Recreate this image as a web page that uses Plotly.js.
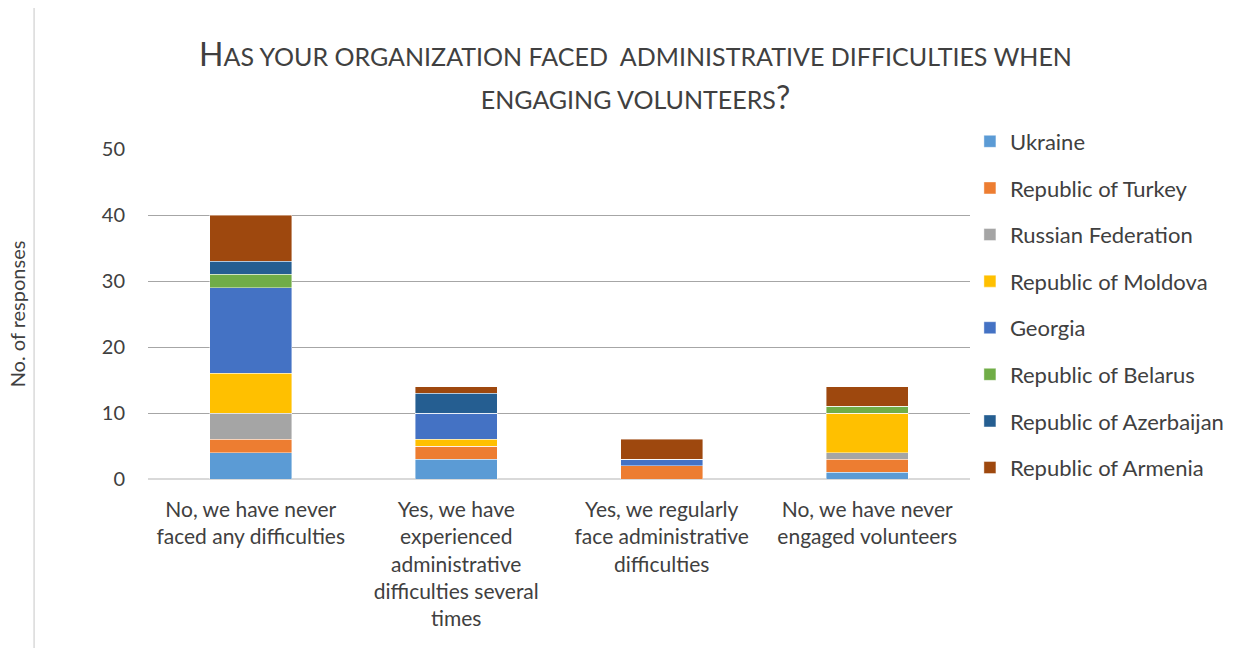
<!DOCTYPE html>
<html>
<head>
<meta charset="utf-8">
<script src="https://cdn.plot.ly/plotly-3.0.1.min.js"></script>
<style>html,body{margin:0;padding:0;background:#fff;}#chart{width:1234px;height:648px;}</style>
</head>
<body>
<div id="chart"></div>
<script>
const categories = [
  "No, we have never<br>faced any difficulties",
  "Yes, we have<br>experienced<br>administrative<br>difficulties several<br>times",
  "Yes, we regularly<br>face administrative<br>difficulties",
  "No, we have never<br>engaged volunteers"
];
const seriesNames = ["Ukraine","Republic of Turkey","Russian Federation","Republic of Moldova","Georgia","Republic of Belarus","Republic of Azerbaijan","Republic of Armenia"];
const ukraine    = [4, 3, 0, 1];
const turkey     = [2, 2, 2, 2];
const russia     = [4, 0, 0, 1];
const moldova    = [6, 1, 0, 6];
const georgia    = [13, 4, 1, 0];
const belarus    = [2, 0, 0, 1];
const azerbaijan = [2, 3, 0, 0];
const armenia    = [7, 1, 3, 3];
const seriesValues = [ukraine, turkey, russia, moldova, georgia, belarus, azerbaijan, armenia];
const colors = ["#5b9bd5","#ed7d31","#a5a5a5","#ffc000","#4472c4","#70ad47","#255e91","#9e480e"];
const yTicks = [0, 10, 20, 30, 40, 50];

const FONT = "Lato, 'Open Sans', sans-serif";
const traces = seriesNames.map((name, i) => ({
  type: "bar",
  name: name,
  x: categories,
  y: seriesValues[i],
  marker: {color: colors[i], line: {color: "rgba(255,255,255,0.6)", width: 0.7}},
  legendgroup: "g" + i,
  hoverinfo: "x+y+name"
}));

const titleText = '<span style="font-size:32px">H</span><span style="font-size:25px">AS YOUR ORGANIZATION FACED  ADMINISTRATIVE DIFFICULTIES WHEN</span><br><span style="font-size:25px">ENGAGING VOLUNTEERS</span><span style="font-size:32px">?</span>';

const L = 148, R = 985, T = 149, B = 479;
const layout = {
  width: 1234, height: 648,
  paper_bgcolor: "#ffffff", plot_bgcolor: "#ffffff",
  font: {family: FONT, color: "#404040", size: 20},
  margin: {l: L, r: 1234 - R, t: T, b: 648 - B},
  barmode: "stack",
  bargap: 0.6,
  title: {
    text: titleText,
    font: {family: FONT, size: 33, color: "#404040"},
    x: 0.515, xref: "container", xanchor: "center",
    y: 0.898, yref: "container", yanchor: "top"
  },
  xaxis: {
    type: "category",
    tickfont: {family: FONT, size: 21, color: "#404040"},
    showgrid: false, showline: false, ticks: "",
    ticklabelstandoff: 16,
    automargin: false
  },
  yaxis: {
    range: [0, 50],
    tickvals: yTicks,
    tickfont: {family: FONT, size: 20, color: "#404040"},
    showgrid: true, gridcolor: "#a6a6a6", gridwidth: 1.3,
    zeroline: true, zerolinecolor: "#d9d9d9", zerolinewidth: 1.5,
    showline: false, ticks: "", ticklabelstandoff: 22,
    automargin: false,
    title: {text: "No. of responses", font: {family: FONT, size: 20, color: "#404040"}, standoff: 70}
  },
  legend: {
    x: 0.786, xref: "container", xanchor: "left",
    y: 0.814, yref: "container", yanchor: "top",
    traceorder: "grouped",
    tracegroupgap: 15,
    maxheight: 1,
    font: {family: FONT, size: 22, color: "#404040"},
    bgcolor: "rgba(0,0,0,0)",
    itemwidth: 30
  },
  shapes: [{
    type: "line", xref: "paper", yref: "paper",
    x0: (32 - L) / (R - L), x1: (32 - L) / (R - L),
    y0: (B - 8) / (B - T), y1: (B - 648) / (B - T),
    line: {color: "#d9d9d9", width: 1.5}
  }],
  showlegend: true
};

Plotly.newPlot("chart", traces, layout, {displayModeBar: false, responsive: false});
</script>
</body>
</html>
